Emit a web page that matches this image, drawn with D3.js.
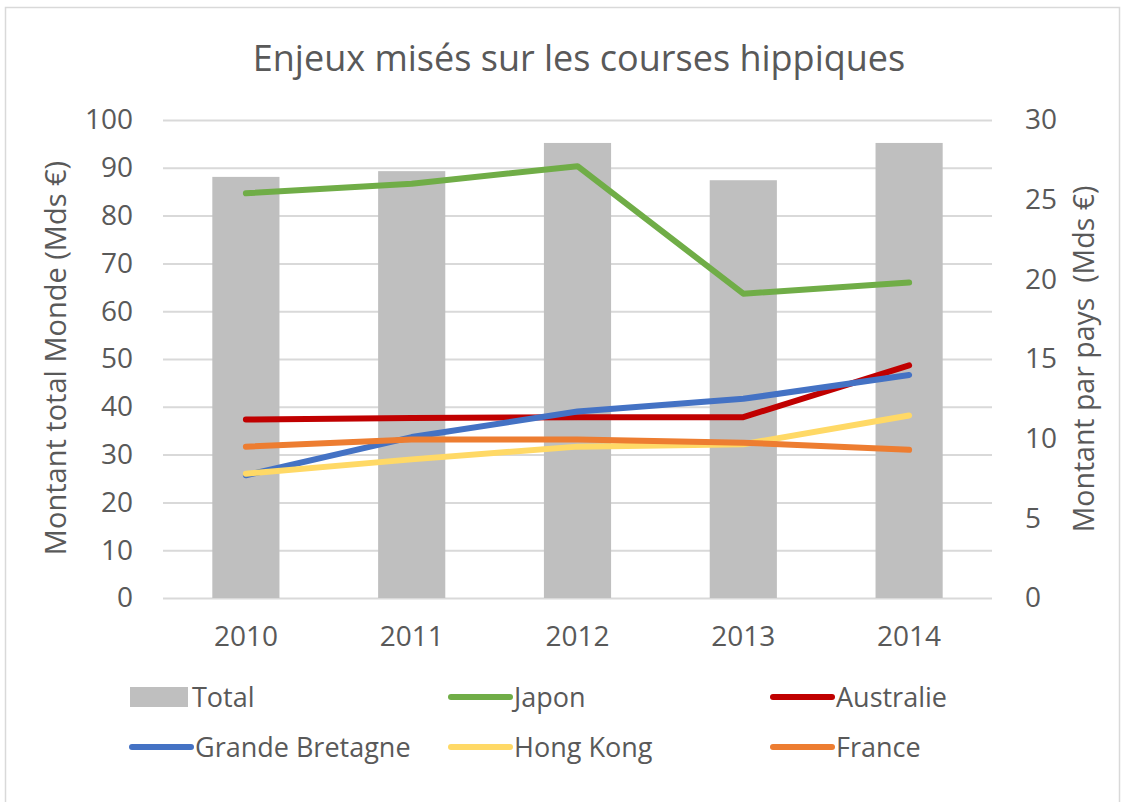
<!DOCTYPE html>
<html>
<head>
<meta charset="utf-8">
<script src="https://cdn.jsdelivr.net/npm/d3@7"></script>
<style>
  body { margin: 0; background: #fff; }
  text { font-family: "Open Sans", sans-serif; fill: #595959; }
</style>
</head>
<body>
<div id="chart"></div>
<script>
// data
var years = ["2010", "2011", "2012", "2013", "2014"];
var total = [88.1, 89.3, 95.2, 87.4, 95.2];
var japon = [25.4, 26.0, 27.1, 19.1, 19.8];
var australie = [11.2, 11.3, 11.35, 11.35, 14.6];
var grandeBretagne = [7.7, 10.1, 11.7, 12.5, 14.0];
var hongKong = [7.8, 8.7, 9.5, 9.65, 11.45];
var france = [9.5, 9.95, 9.95, 9.75, 9.3];
var leftTicks = [0, 10, 20, 30, 40, 50, 60, 70, 80, 90, 100];
var rightTicks = [0, 5, 10, 15, 20, 25, 30];

var series = [
    {name: "Japon", values: japon, color: "#70AD47"},
    {name: "Australie", values: australie, color: "#C00000"},
    {name: "Grande Bretagne", values: grandeBretagne, color: "#4472C4"},
    {name: "Hong Kong", values: hongKong, color: "#FFD966"},
    {name: "France", values: france, color: "#ED7D31"}
];

var svgWidth = 1126;
var svgHeight = 802;
var plotLeft = 163;
var plotRight = 992;
var plotTop = 120;
var plotBottom = 598;

var svg = d3.select("#chart")
    .append("svg")
    .attr("width", svgWidth)
    .attr("height", svgHeight);

svg.append("rect")
    .attr("x", 5.5)
    .attr("y", 7.5)
    .attr("width", 1114)
    .attr("height", 800)
    .attr("fill", "#fff")
    .attr("stroke", "#D9D9D9")
    .attr("stroke-width", 1.5);

var xScale = d3.scaleBand()
    .domain(years)
    .range([plotLeft, plotRight])
    .padding(0);
var yLeft = d3.scaleLinear().domain([0, 100]).range([plotBottom, plotTop]);
var yRight = d3.scaleLinear().domain([0, 30]).range([plotBottom, plotTop]);

// gridlines
var leftAxis = d3.axisLeft(yLeft)
    .tickValues(leftTicks)
    .tickSize(-(plotRight - plotLeft))
    .tickPadding(30);
var gLeft = svg.append("g")
    .attr("transform", `translate(${plotLeft},0)`)
    .call(leftAxis);
gLeft.select(".domain").remove();
gLeft.selectAll(".tick line").attr("stroke", "#D9D9D9").attr("stroke-width", 2);
gLeft.selectAll(".tick text")
    .attr("font-size", "28px")
    .attr("fill", "#595959")
    .style("font-family", "'Open Sans', sans-serif");

var rightAxis = d3.axisRight(yRight)
    .tickValues(rightTicks)
    .tickSize(0)
    .tickPadding(33);
var gRight = svg.append("g")
    .attr("transform", `translate(${plotRight},0)`)
    .call(rightAxis);
gRight.select(".domain").remove();
gRight.selectAll(".tick text")
    .attr("font-size", "28px")
    .attr("fill", "#595959")
    .style("font-family", "'Open Sans', sans-serif");

// bars
var barWidth = xScale.bandwidth() * 0.405;
svg.append("g").selectAll("rect")
    .data(years)
    .enter()
    .append("rect")
    .attr("x", (d, i) => xScale(d) + xScale.bandwidth() / 2 - barWidth / 2)
    .attr("y", (d, i) => yLeft(total[i]))
    .attr("width", barWidth)
    .attr("height", (d, i) => yLeft(0) - yLeft(total[i]))
    .attr("fill", "#BFBFBF");

// x axis labels
var xAxis = d3.axisBottom(xScale).tickSize(0).tickPadding(28);
var gX = svg.append("g")
    .attr("transform", `translate(0,${plotBottom})`)
    .call(xAxis);
gX.select(".domain").remove();
gX.selectAll(".tick text")
    .attr("font-size", "28px")
    .attr("fill", "#595959")
    .style("font-family", "'Open Sans', sans-serif");

// lines
var line = d3.line()
    .x((d, i) => xScale(years[i]) + xScale.bandwidth() / 2)
    .y(d => yRight(d));

svg.append("g").selectAll("path")
    .data(series)
    .enter()
    .append("path")
    .attr("d", d => line(d.values))
    .attr("fill", "none")
    .attr("stroke", d => d.color)
    .attr("stroke-width", 6)
    .attr("stroke-linecap", "round")
    .attr("stroke-linejoin", "round");

// titles
svg.append("text")
    .attr("x", 579)
    .attr("y", 71)
    .attr("text-anchor", "middle")
    .attr("font-size", "36px")
    .text("Enjeux misés sur les courses hippiques");

svg.append("text")
    .attr("transform", "translate(66,358) rotate(-90)")
    .attr("text-anchor", "middle")
    .attr("font-size", "29px")
    .text("Montant total Monde (Mds €)");

svg.append("text")
    .attr("transform", "translate(1094,359) rotate(-90)")
    .attr("text-anchor", "middle")
    .attr("font-size", "28.5px")
    .attr("xml:space", "preserve")
    .style("white-space", "pre")
    .text("Montant par pays  (Mds €)");

// legend
var legendItems = [{name: "Total", color: "#BFBFBF", bar: true}].concat(series);
var legendX = [130, 449, 771];
var legendY = [697, 747];

var legend = svg.append("g").selectAll("g")
    .data(legendItems)
    .enter()
    .append("g")
    .attr("transform", (d, i) => `translate(${legendX[i % 3]},${legendY[Math.floor(i / 3)]})`);

legend.each(function(d) {
    var g = d3.select(this);
    if (d.bar) {
        g.append("rect")
            .attr("x", 0)
            .attr("y", -10)
            .attr("width", 58)
            .attr("height", 20)
            .attr("fill", d.color);
    } else {
        g.append("line")
            .attr("x1", 2)
            .attr("x2", 61)
            .attr("y1", 0)
            .attr("y2", 0)
            .attr("stroke", d.color)
            .attr("stroke-width", 6)
            .attr("stroke-linecap", "round");
    }
    g.append("text")
        .attr("x", d.bar ? 62 : 65)
        .attr("y", 0)
        .attr("dy", "0.36em")
        .attr("font-size", "27px")
        .text(d.name);
});
</script>
</body>
</html>
